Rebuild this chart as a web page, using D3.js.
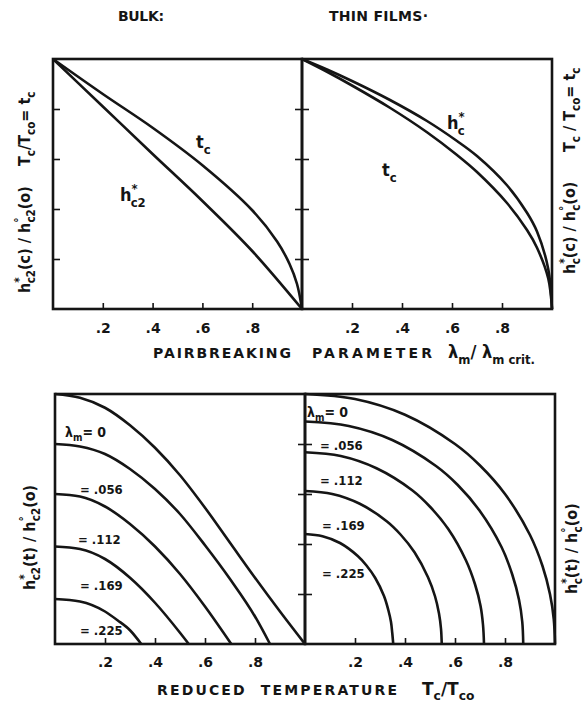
<!DOCTYPE html>
<html>
<head>
<meta charset="utf-8">
<script src="https://cdn.jsdelivr.net/npm/d3@7"></script>
<style>
body { margin: 0; background: #fff; }
text { font-family: "DejaVu Sans", sans-serif; font-weight: bold; fill: #151515; white-space: pre; }
text.cond { font-family: "DejaVu Sans Condensed", "DejaVu Sans", sans-serif; font-stretch: condensed; }
</style>
</head>
<body>
<svg id="fig" width="584" height="702"></svg>
<script>
// ---- values ----
const xTicks = [.2, .4, .6, .8];
const yTicks = [.2, .4, .6, .8];
const lambdaLabels = ["0", ".056", ".112", ".169", ".225"];

// top left: bulk, vs pairbreaking parameter
const bulkTcX = [0, .2, .4, .6, .8, .9, .95, .98, 1];
const bulkTcY = [1, .86, .725, .575, .395, .27, .18, .1, 0];
const bulkHcX = [0, .2, .4, .6, .8, 1];
const bulkHcY = [1, .81, .62, .432, .232, 0];

// top right: thin films, vs pairbreaking parameter
const filmX   = [0, .1, .2, .35, .5, .62, .7, .82, .9, .94, .985, 1];
const filmHcY = [1, .958, .912, .837, .752, .672, .612, .495, .385, .31, .16, 0];
const filmTcY = [1, .949, .894, .806, .707, .616, .548, .424, .316, .245, .122, 0];

// bottom left: bulk h*c2(t) for each lambda_m
const bT0X = [0, .1, .2, .3, .4, .5, .6, .7, .8, .9, 1];
const bT0Y = [1, .985, .945, .875, .785, .675, .545, .405, .265, .13, 0];
const bT1X = [0, .1, .2, .3, .4, .5, .6, .7, .8, .86];
const bT1Y = [.80, .79, .76, .70, .62, .52, .395, .26, .11, 0];
const bT2X = [0, .1, .2, .3, .4, .5, .6, .705];
const bT2Y = [.60, .59, .55, .48, .39, .28, .15, 0];
const bT3X = [0, .1, .2, .3, .4, .5, .535];
const bT3Y = [.39, .38, .34, .265, .165, .045, 0];
const bT4X = [0, .1, .2, .25, .3, .345];
const bT4Y = [.18, .17, .13, .095, .055, 0];

// bottom right: thin film h*c(t) for each lambda_m
const fT0X = [0, .2, .4, .6, .7, .8, .9, .95, .98, .995, 1];
const fT0Y = [1, .98, .917, .8, .714, .6, .436, .312, .199, .1, 0];
const fT1X = [0, .175, .349, .524, .611, .698, .786, .829, .856, .869, .873];
const fT1Y = [.89, .872, .816, .712, .636, .534, .388, .278, .177, .089, 0];
const fT2X = [0, .143, .286, .43, .501, .573, .644, .68, .702, .712, .716];
const fT2Y = [.767, .752, .703, .614, .548, .46, .334, .239, .153, .077, 0];
const fT3X = [0, .109, .219, .328, .383, .438, .492, .52, .536, .544, .547];
const fT3Y = [.612, .6, .561, .49, .437, .367, .267, .191, .122, .061, 0];
const fT4X = [0, .07, .14, .211, .246, .281, .316, .333, .344, .349, .353];
const fT4Y = [.44, .431, .404, .352, .314, .264, .192, .137, .088, .044, 0];

const ink = "#151515";
const svg = d3.select("#fig");

function panel(x0, y0, w, h) {
  return {
    x: d3.scaleLinear().domain([0, 1]).range([x0, x0 + w]),
    y: d3.scaleLinear().domain([0, 1]).range([y0 + h, y0]),
    x0, y0, w, h
  };
}
const TL = panel(53, 59, 249, 250),
      TR = panel(302, 59, 250, 250),
      BL = panel(55, 394, 250, 250),
      BR = panel(305, 394, 250, 250);

// frames
[TL, TR, BL, BR].forEach(p => {
  svg.append("rect").attr("x", p.x0).attr("y", p.y0).attr("width", p.w).attr("height", p.h)
     .attr("fill", "none").attr("stroke", ink).attr("stroke-width", 2.6);
});

const fmt = d => d3.format(".1f")(d).slice(1);
function styleAxis(g) {
  g.attr("font-family", null).attr("font-size", null);
  g.select(".domain").remove();
  g.selectAll("line").attr("stroke", ink).attr("stroke-width", 1.6);
  g.selectAll("text").attr("font-size", 14).attr("fill", ink);
}
function xAxis(p, pad) {
  svg.append("g").attr("transform", `translate(0,${p.y0 + p.h})`)
     .call(d3.axisBottom(p.x).tickValues(xTicks).tickSizeInner(-6).tickSizeOuter(0)
           .tickPadding(pad).tickFormat(fmt))
     .call(styleAxis);
}
function yTickMarks(scale, x, size, side) {
  const ax = side === "left" ? d3.axisLeft(scale) : d3.axisRight(scale);
  svg.append("g").attr("transform", `translate(${x},0)`)
     .call(ax.tickValues(yTicks).tickSizeInner(size).tickSizeOuter(0).tickFormat(""))
     .call(styleAxis);
}
xAxis(TL, 14); xAxis(TR, 14); xAxis(BL, 13); xAxis(BR, 13);
yTickMarks(TL.y, TL.x0, -7, "left");
yTickMarks(TL.y, TR.x0, 7, "left");
yTickMarks(TL.y, TR.x0, 7, "right");
yTickMarks(BL.y, BR.x0, 7, "left");
yTickMarks(BL.y, BR.x0, 7, "right");

// curves
function curve(p, xs, ys, kind) {
  const line = d3.line().x(d => p.x(d[0])).y(d => p.y(d[1])).curve(kind);
  svg.append("path").attr("d", line(d3.zip(xs, ys)))
     .attr("fill", "none").attr("stroke", ink).attr("stroke-width", 2.6)
     .attr("stroke-linejoin", "round");
}
const smooth = d3.curveCatmullRom.alpha(0.5);
curve(TL, bulkTcX, bulkTcY, smooth);
curve(TL, bulkHcX, bulkHcY, d3.curveMonotoneX);
curve(TR, filmX, filmHcY, smooth);
curve(TR, filmX, filmTcY, smooth);
[[bT0X, bT0Y], [bT1X, bT1Y], [bT2X, bT2Y], [bT3X, bT3Y], [bT4X, bT4Y]]
  .forEach(([xs, ys]) => curve(BL, xs, ys, d3.curveMonotoneX));
[[fT0X, fT0Y], [fT1X, fT1Y], [fT2X, fT2Y], [fT3X, fT3Y], [fT4X, fT4Y]]
  .forEach(([xs, ys]) => curve(BR, xs, ys, smooth));

// text with sub/superscripts
function rich(parent, parts, fs, attrs) {
  const t = parent.append("text").attr("font-size", fs);
  Object.entries(attrs || {}).forEach(([k, v]) => t.attr(k, v));
  let shift = 0;
  parts.forEach(([s, k, dx]) => {
    let off = 0, size = fs;
    if (k === "sub") { off = fs * 0.32; size = fs * 0.72; }
    if (k === "sup") { off = -fs * 0.42; size = fs * 0.72; }
    const ts = t.append("tspan").attr("font-size", size).text(s);
    if (off - shift !== 0) ts.attr("dy", off - shift);
    if (dx) ts.attr("dx", dx);
    shift = off;
  });
  return t;
}
function vlabel(x, y, parts, fs) {
  const g = svg.append("g").attr("transform", `translate(${x},${y}) rotate(-90)`);
  rich(g, parts, fs, {class: "cond"});
}

// headers
svg.append("text").attr("x", 118).attr("y", 21).attr("font-size", 14)
   .attr("textLength", 46).attr("lengthAdjust", "spacing").text("BULK:");
svg.append("text").attr("x", 329).attr("y", 21).attr("font-size", 14)
   .attr("textLength", 99).attr("lengthAdjust", "spacing").text("THIN FILMS·");

// x titles
svg.append("text").attr("x", 153).attr("y", 358).attr("font-size", 14)
   .attr("textLength", 138).attr("lengthAdjust", "spacing").text("PAIRBREAKING");
svg.append("text").attr("x", 312).attr("y", 358).attr("font-size", 14)
   .attr("textLength", 120).attr("lengthAdjust", "spacing").text("PARAMETER");
rich(svg, [["λ"], ["m", "sub"], ["/ λ"], ["m crit.", "sub"]], 18, {x: 448, y: 358, class: "cond"});
svg.append("text").attr("x", 157).attr("y", 695).attr("font-size", 14)
   .attr("textLength", 240).attr("lengthAdjust", "spacing").text("REDUCED  TEMPERATURE");
rich(svg, [["T"], ["c", "sub"], ["/T"], ["co", "sub"]], 17, {x: 422, y: 695});

// y titles
const hc2 = [["h"], ["*", "sup"], ["c2", "sub", -6]];
vlabel(30, 293, [...hc2, ["(c) / h"], ["°", "sup"], ["c2", "sub", -5], ["(o)"]], 16);
vlabel(30, 166, [["T"], ["c", "sub"], ["/T"], ["co", "sub"], ["= t"], ["c", "sub"]], 16);
vlabel(575, 274, [["h"], ["*", "sup"], ["c", "sub", -6], ["(c) / h"], ["°", "sup"], ["c", "sub", -5], ["(o)"]], 16);
vlabel(575, 152, [["T"], ["c", "sub"], [" / T"], ["co", "sub"], ["= t"], ["c", "sub"]], 16);
vlabel(35, 590, [...hc2, ["(t) / h"], ["°", "sup"], ["c2", "sub", -5], ["(o)"]], 16);
vlabel(577, 594, [["h"], ["*", "sup"], ["c", "sub", -6], ["(t) / h"], ["°", "sup"], ["c", "sub", -5], ["(o)"]], 16);

// curve labels
rich(svg, [["t"], ["c", "sub"]], 18, {x: 196, y: 148, class: "cond"});
rich(svg, [["h"], ["*", "sup"], ["c2", "sub", -7]], 18, {x: 120, y: 201, class: "cond"});
rich(svg, [["h"], ["*", "sup"], ["c", "sub", -7]], 18, {x: 447, y: 129, class: "cond"});
rich(svg, [["t"], ["c", "sub"]], 18, {x: 382, y: 176, class: "cond"});

// lambda labels
const blPos = [[65, 437], [80, 494], [78, 544], [80, 590], [80, 635]];
const brPos = [[307, 417], [320, 450], [320, 485], [322, 530], [322, 578]];
lambdaLabels.forEach((lab, i) => {
  [blPos[i], brPos[i]].forEach(([x, y]) => {
    if (i === 0) {
      rich(svg, [["λ"], ["m", "sub"], ["= " + lab]], 14, {x, y, class: "cond"});
    } else {
      rich(svg, [["= " + lab]], 13, {x, y, class: "cond"});
    }
  });
});
</script>
</body>
</html>
